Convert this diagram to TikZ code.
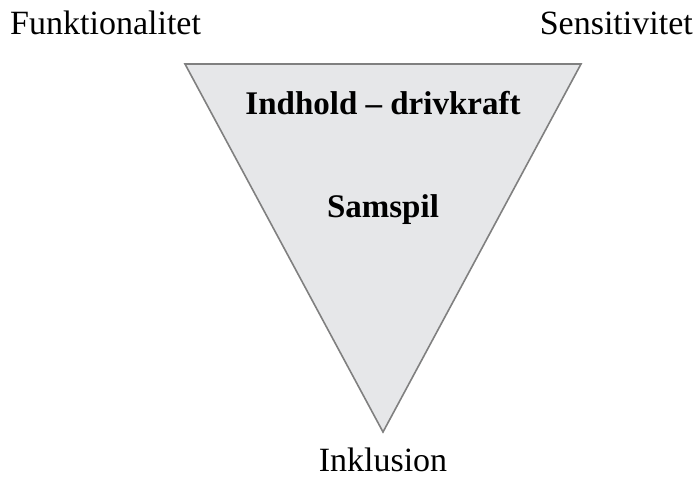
\documentclass[tikz,border=0pt]{standalone}
\usepackage{fontspec}
\setmainfont{Liberation Serif}
\usetikzlibrary{calc}

\definecolor{funnelfill}{RGB}{230,231,233}
\definecolor{funneldraw}{RGB}{128,128,128}

\tikzset{
  corner/.style={inner sep=0pt,font=\fontsize{34}{40}\selectfont},
  inside/.style={inner sep=0pt,font=\fontsize{33}{40}\selectfont\bfseries}
}

\begin{document}
\begin{tikzpicture}[x=1pt,y=-1pt]
\useasboundingbox (0,0) rectangle (698,478);
% funnel
\coordinate (tl) at (185,64);
\coordinate (tr) at (581,64);
\coordinate (bot) at (383,432);
\draw[funneldraw,fill=funnelfill,line width=1.6pt,line join=miter] (tl) -- (tr) -- (bot) -- cycle;

% corner labels
\node[corner,anchor=base west] (funk) at (10,35) {Funktionalitet};
\node[corner,anchor=base east] (sens) at (693,35) {Sensitivitet};
\node[corner,anchor=base,text depth=0pt] (inkl) at (383,471) {Inklusion};

% inside labels
\node[inside,anchor=base] (indhold) at (383,115) {Indhold – drivkraft};
\node[inside,anchor=base] (samspil) at (383,218) {Samspil};
\end{tikzpicture}
\end{document}
